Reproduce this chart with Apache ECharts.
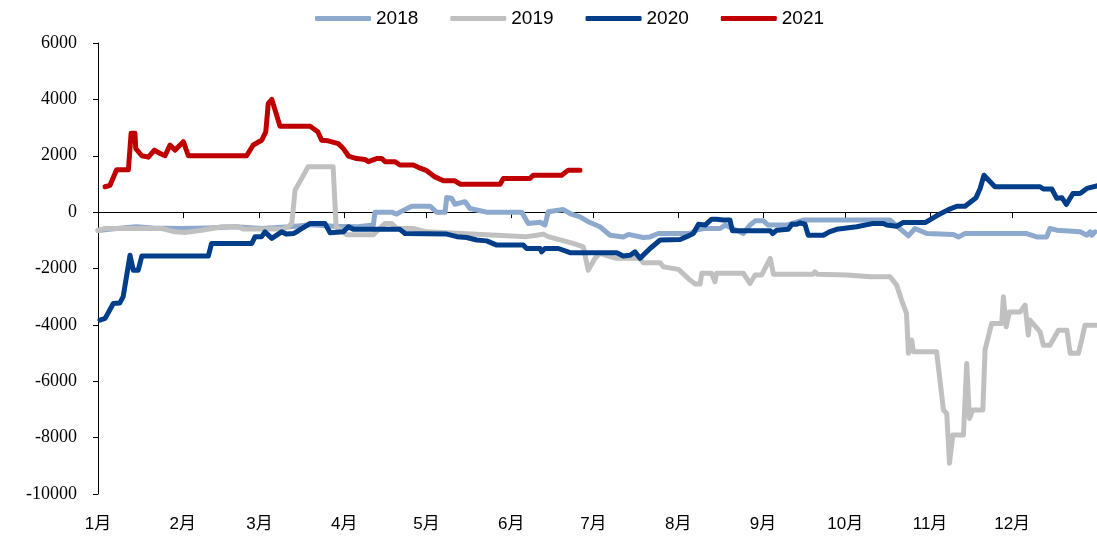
<!DOCTYPE html>
<html>
<head>
<meta charset="utf-8">
<script src="https://cdn.jsdelivr.net/npm/echarts@6/dist/echarts.min.js"></script>
<style>
html,body{margin:0;padding:0;background:#fff;}
#chart{width:1097px;height:539px;}
</style>
</head>
<body>
<div id="chart"></div>
<script>
// Day-of-year offsets where each month starts, and the month labels
const monthStarts = [0,31,59,90,120,151,181,212,243,273,304,334];
const monthLabels = ['1月','2月','3月','4月','5月','6月','7月','8月','9月','10月','11月','12月'];
const yearEnd = 365;
const seriesNames = ['2018','2019','2020','2021'];

// [day of year, value]
const s2018 = [[0,-650],[5,-600],[14,-520],[20,-560],[30,-580],[40,-560],[50,-520],[60,-580],[70,-520],[78,-450],[86,-500],[95,-520],[100.6,-460],[101.2,0],[107.3,0],[109.1,-70],[110.3,0],[114.6,210],[121.3,210],[123.7,0],[126.8,0],[127.4,520],[129.2,490],[130.4,280],[134.1,370],[135.9,130],[139.6,50],[142,0],[154.8,0],[157.2,-400],[161.5,-360],[163.3,-460],[164.5,10],[170,90],[172.5,-50],[176.1,-170],[179.1,-340],[183.4,-520],[187.1,-820],[191.9,-880],[193.8,-790],[199.2,-900],[201.7,-880],[204.7,-760],[216.3,-760],[218.7,-640],[221.2,-580],[227.3,-580],[229.1,-460],[235.8,-760],[238.2,-460],[240.1,-310],[243.1,-310],[244.9,-460],[251.6,-460],[257.7,-280],[289.4,-280],[293.6,-640],[296.1,-840],[298.5,-580],[302.8,-760],[312.5,-790],[314.4,-880],[316.8,-760],[339.3,-760],[343,-880],[346.6,-880],[347.8,-580],[350.3,-640],[358.8,-700],[361.3,-820],[362.5,-700],[363.1,-820],[364.3,-700]];

const s2019 = [[0,-650],[2.6,-580],[23.3,-580],[28.1,-700],[31.8,-720],[37.9,-640],[41.5,-580],[45.2,-520],[51.3,-520],[53.1,-600],[67.1,-600],[69.5,-520],[70.8,-400],[72,780],[76.8,1610],[85.9,1610],[87,-520],[90.9,-800],[100.6,-800],[104.9,-400],[107.3,-400],[109.1,-580],[115.2,-580],[120.1,-700],[156.6,-870],[160.3,-820],[162.7,-780],[164.5,-870],[173.6,-1110],[177.3,-1230],[179.1,-2060],[181.6,-1640],[183.4,-1460],[187.1,-1580],[189.5,-1640],[198,-1640],[199.2,-1800],[205.4,-1800],[206.6,-1940],[207.8,-1960],[212.1,-2030],[216.3,-2410],[218.2,-2550],[220,-2550],[220.6,-2170],[224.2,-2170],[225.4,-2470],[226,-2170],[235.8,-2170],[238.2,-2530],[240.1,-2230],[242.5,-2230],[245.6,-1640],[246.8,-2200],[261.3,-2200],[261.9,-2120],[262.8,-2200],[273.5,-2230],[282.5,-2290],[289.4,-2290],[291.8,-2590],[293.6,-3120],[295.4,-3590],[296.1,-5010],[297.3,-4540],[297.9,-4950],[306.4,-4950],[308.9,-7020],[310.1,-7140],[311.1,-8910],[312.3,-7910],[316.2,-7910],[317.4,-5370],[318.4,-7320],[319.6,-7020],[323.3,-7020],[324.1,-4890],[326.5,-3950],[330.2,-3950],[330.8,-3000],[331.8,-4070],[333,-3540],[336.9,-3540],[338.7,-3300],[339.9,-4360],[340.5,-3830],[344.2,-4250],[345.4,-4720],[347.8,-4720],[350.9,-4190],[354,-4190],[355.2,-5010],[358.2,-5010],[359.4,-4540],[360.6,-4010],[365,-4010]];

const s2020 = [[0.7,-3830],[2.6,-3770],[5.6,-3240],[8,-3220],[9.2,-3000],[11.7,-1530],[12.9,-2060],[14.7,-2060],[16,-1560],[40.3,-1560],[41.5,-1110],[56.2,-1110],[57.4,-870],[59.8,-870],[61,-700],[63.5,-930],[67.1,-700],[68.9,-780],[71.4,-760],[73.2,-660],[77.5,-400],[82.9,-400],[84.8,-730],[89.6,-700],[91.5,-520],[93.3,-610],[110.3,-610],[112.2,-760],[127.4,-780],[131.1,-870],[134.7,-900],[138.4,-990],[142,-1020],[145.7,-1170],[155.4,-1170],[156.6,-1290],[161.5,-1290],[162.1,-1410],[163.3,-1290],[168.2,-1290],[172.5,-1440],[183.4,-1440],[189.5,-1440],[191.9,-1560],[194.4,-1530],[196.2,-1410],[198,-1640],[201.7,-1290],[205.4,-990],[212.7,-970],[215.1,-870],[217.5,-760],[219.4,-430],[221.8,-460],[224.2,-250],[226,-250],[228.4,-280],[230.9,-280],[231.8,-660],[245.6,-660],[246.5,-760],[248,-640],[252.2,-610],[253.5,-430],[255.3,-430],[256.5,-380],[258.3,-430],[259.5,-820],[265,-820],[267.2,-700],[269.9,-610],[277.2,-520],[283.3,-400],[286.9,-400],[288.2,-460],[291.8,-500],[294.2,-370],[302.2,-370],[306.4,-130],[310.7,90],[313.8,210],[316.8,210],[320.8,510],[322.3,840],[323.7,1310],[327.7,900],[344.2,900],[345.4,820],[348.5,820],[350.3,490],[352.2,510],[353.8,270],[356.2,660],[358.8,660],[361.3,840],[364.9,930]];

const s2021 = [[2.6,900],[4.4,950],[6.8,1500],[11.1,1500],[12.1,2800],[13.5,2800],[13.8,2250],[16,2000],[18.4,1950],[20.6,2200],[22.7,2080],[24.5,2000],[26.3,2380],[28.1,2200],[31.2,2500],[33,2000],[54.3,2000],[56.7,2380],[59.8,2550],[61.3,2850],[62.2,3850],[63.5,4000],[66.5,3050],[77.5,3050],[80.3,2850],[81.7,2550],[84.1,2530],[87.8,2430],[89.6,2260],[91.5,1990],[94.5,1900],[97.5,1870],[98.8,1790],[101.8,1900],[103.7,1900],[104.9,1790],[108.5,1790],[110.3,1670],[115.2,1670],[117,1590],[120.1,1470],[123.1,1250],[126.2,1110],[130.4,1110],[132.3,990],[146.9,990],[148.1,1190],[157.8,1190],[159,1310],[169.4,1310],[171.8,1490],[176.1,1490]];

const colors = ['#8EA9CE','#C0C0C0','#003E8A','#C00000'];
const allData = [s2018, s2019, s2020, s2021];

const chart = echarts.init(document.getElementById('chart'), null, {renderer:'canvas'});
const option = {
  backgroundColor: '#fff',
  animation: false,
  color: colors,
  legend: {
    data: seriesNames,
    left: 310, top: 4,
    icon: 'roundRect',
    itemWidth: 56, itemHeight: 5, itemGap: 32,
    textStyle: {fontFamily: 'Liberation Sans', fontSize: 19, color: '#000'}
  },
  grid: {left: 98, right: 0, top: 43, bottom: 45, containLabel: false},
  xAxis: [
    {
      type: 'value', min: 0, max: yearEnd, position: 'bottom',
      axisLine: {show: false, onZero: false},
      axisTick: {show: false},
      splitLine: {show: false},
      axisLabel: {
        customValues: monthStarts,
        formatter: function (v) { const i = monthStarts.indexOf(v); return i >= 0 ? monthLabels[i] : ''; },
        fontFamily: 'Liberation Sans, Noto Sans CJK SC', fontSize: 17, color: '#000', margin: 22
      }
    },
    {
      type: 'value', min: 0, max: yearEnd, position: 'bottom',
      axisLine: {show: true, onZero: true, lineStyle: {color: '#000', width: 1}},
      axisTick: {show: true, customValues: monthStarts.concat([yearEnd]), length: 6, lineStyle: {color: '#000'}},
      axisLabel: {show: false},
      splitLine: {show: false}
    }
  ],
  yAxis: {
    type: 'value', min: -10000, max: 6000, interval: 2000,
    axisLine: {show: true, lineStyle: {color: '#000', width: 1}},
    axisTick: {show: true, length: 5, lineStyle: {color: '#000'}},
    splitLine: {show: false},
    axisLabel: {
      formatter: function (v) { return String(v); },
      fontFamily: 'Liberation Serif', fontSize: 18, color: '#000', margin: 21
    }
  },
  series: seriesNames.map(function (name, i) {
    return {
      name: name, type: 'line', xAxisIndex: 0, data: allData[i],
      symbol: 'none', smooth: false,
      lineStyle: {width: 5, color: colors[i], cap: 'round', join: 'round'},
      itemStyle: {color: colors[i]}
    };
  })
};
chart.setOption(option);
</script>
</body>
</html>
